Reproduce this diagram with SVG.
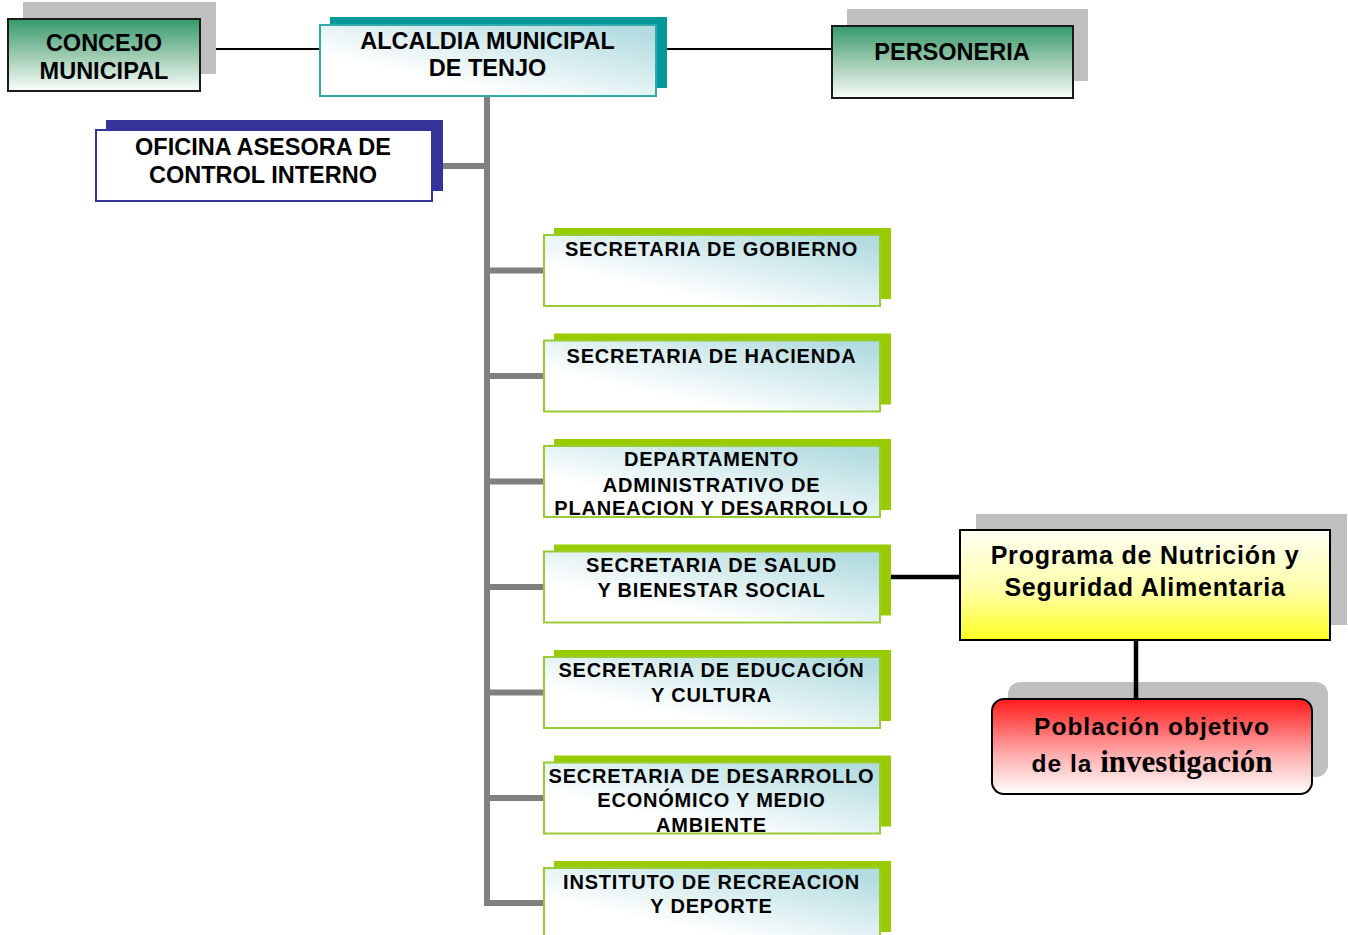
<svg xmlns="http://www.w3.org/2000/svg" width="1348" height="935" viewBox="0 0 1348 935">
<defs>
<linearGradient id="gGreen" x1="0" y1="0" x2="0" y2="1">
<stop offset="0" stop-color="#35996b"/>
<stop offset="0.5" stop-color="#9ccab0"/>
<stop offset="1" stop-color="#fbfdfb"/>
</linearGradient>
<linearGradient id="gTeal" x1="0.15" y1="0.9" x2="0.95" y2="0.1">
<stop offset="0.2" stop-color="#ffffff"/>
<stop offset="1" stop-color="#b3dce0"/>
</linearGradient>
<linearGradient id="gYellow" x1="0" y1="0" x2="0" y2="1">
<stop offset="0" stop-color="#fffff6"/>
<stop offset="0.55" stop-color="#ffffa8"/>
<stop offset="1" stop-color="#ffff22"/>
</linearGradient>
<linearGradient id="gRed" x1="0" y1="0" x2="0" y2="1">
<stop offset="0" stop-color="#ff1a1a"/>
<stop offset="0.6" stop-color="#ffb0b0"/>
<stop offset="1" stop-color="#ffffff"/>
</linearGradient>
</defs>
<style>
text{font-family:"Liberation Sans",Arial,sans-serif;font-weight:bold;fill:#000;text-anchor:middle}
.big{font-size:23.5px}
.sec{font-size:20px;letter-spacing:0.8px}
.gshadow{fill:#c0c0c0}
.greenbox{fill:url(#gGreen);stroke:#1a1a1a;stroke-width:2}
.secsh{fill:#99cc00}
.secfill{fill:url(#gTeal)}
.secborder{fill:none;stroke:#99cc33;stroke-width:2}
.tree{stroke:#808080;stroke-width:6;fill:none}
.thin{stroke:#000;stroke-width:2}
.thick{stroke:#000;stroke-width:4.5}
</style>

<g id="connectors">
<line class="thin" x1="200" y1="49" x2="320" y2="49"/>
<line class="thin" x1="656" y1="49" x2="832" y2="49"/>
<polyline class="tree" points="487,96 487,903 543,903"/>
<line class="tree" x1="432" y1="166" x2="487" y2="166"/>
<line class="tree" x1="487" y1="270.5" x2="543" y2="270.5"/>
<line class="tree" x1="487" y1="376" x2="543" y2="376"/>
<line class="tree" x1="487" y1="481.5" x2="543" y2="481.5"/>
<line class="tree" x1="487" y1="587" x2="543" y2="587"/>
<line class="tree" x1="487" y1="692.5" x2="543" y2="692.5"/>
<line class="tree" x1="487" y1="798" x2="543" y2="798"/>
<line class="thick" x1="880" y1="577" x2="960" y2="577"/>
</g>

<g id="concejo">
<rect class="gshadow" x="23" y="2" width="193" height="72"/>
<rect class="greenbox" x="8" y="19" width="192" height="72"/>
<text class="big" x="104" y="51">CONCEJO</text>
<text class="big" x="104" y="79">MUNICIPAL</text>
</g>

<g id="alcaldia">
<rect x="330" y="17" width="337" height="71" fill="#009999"/>
<rect x="320" y="25" width="336" height="71" fill="url(#gTeal)" stroke="#33aaaa" stroke-width="2"/>
<text class="big" x="487.5" y="49">ALCALDIA MUNICIPAL</text>
<text class="big" x="487.5" y="76">DE TENJO</text>
</g>

<g id="personeria">
<rect class="gshadow" x="847" y="9" width="241" height="72"/>
<rect class="greenbox" x="832" y="26" width="241" height="72"/>
<text class="big" x="952" y="60">PERSONERIA</text>
</g>

<g id="oficina">
<rect x="106" y="120" width="337" height="71" fill="#333399"/>
<rect x="96" y="130" width="336" height="71" fill="#ffffff" stroke="#333399" stroke-width="2"/>
<text class="big" x="263" y="155">OFICINA ASESORA DE</text>
<text class="big" x="263" y="183">CONTROL INTERNO</text>
</g>

<g id="gobierno">
<rect class="secsh" x="554" y="228" width="337" height="71"/>
<rect class="secfill" x="544" y="235" width="336" height="71"/>
<text class="sec" x="711.5" y="256">SECRETARIA DE GOBIERNO</text>
<rect class="secborder" x="544" y="235" width="336" height="71"/>
</g>

<g id="hacienda">
<rect class="secsh" x="554" y="333.5" width="337" height="71"/>
<rect class="secfill" x="544" y="340.5" width="336" height="71"/>
<text class="sec" x="711.5" y="362.5">SECRETARIA DE HACIENDA</text>
<rect class="secborder" x="544" y="340.5" width="336" height="71"/>
</g>

<g id="planeacion">
<rect class="secsh" x="554" y="439" width="337" height="71"/>
<rect class="secfill" x="544" y="446" width="336" height="71"/>
<text class="sec" x="711.5" y="466">DEPARTAMENTO</text>
<text class="sec" x="711.5" y="491.5">ADMINISTRATIVO DE</text>
<text class="sec" x="711.5" y="515">PLANEACION Y DESARROLLO</text>
<rect class="secborder" x="544" y="446" width="336" height="71"/>
</g>

<g id="salud">
<rect class="secsh" x="554" y="544.5" width="337" height="71"/>
<rect class="secfill" x="544" y="551.5" width="336" height="71"/>
<text class="sec" x="711.5" y="571.5">SECRETARIA DE SALUD</text>
<text class="sec" x="711.5" y="596.5">Y BIENESTAR SOCIAL</text>
<rect class="secborder" x="544" y="551.5" width="336" height="71"/>
</g>

<g id="educacion">
<rect class="secsh" x="554" y="650" width="337" height="71"/>
<rect class="secfill" x="544" y="657" width="336" height="71"/>
<text class="sec" x="711.5" y="677">SECRETARIA DE EDUCACIÓN</text>
<text class="sec" x="711.5" y="702">Y CULTURA</text>
<rect class="secborder" x="544" y="657" width="336" height="71"/>
</g>

<g id="desarrollo">
<rect class="secsh" x="554" y="755.5" width="337" height="71"/>
<rect class="secfill" x="544" y="762.5" width="336" height="71"/>
<text class="sec" x="711.5" y="782.5">SECRETARIA DE DESARROLLO</text>
<text class="sec" x="711.5" y="807">ECONÓMICO Y MEDIO</text>
<text class="sec" x="711.5" y="832">AMBIENTE</text>
<rect class="secborder" x="544" y="762.5" width="336" height="71"/>
</g>

<g id="instituto">
<rect class="secsh" x="554" y="861" width="337" height="71"/>
<rect class="secfill" x="544" y="868" width="336" height="71"/>
<text class="sec" x="711.5" y="888.5">INSTITUTO DE RECREACION</text>
<text class="sec" x="711.5" y="913">Y DEPORTE</text>
<rect class="secborder" x="544" y="868" width="336" height="71"/>
</g>

<g id="programa">
<rect class="gshadow" x="976" y="514" width="371" height="111"/>
<rect x="960" y="530" width="370" height="110" fill="url(#gYellow)" stroke="#000" stroke-width="2"/>
<text x="1145" y="564" style="font-size:25px;letter-spacing:0.8px">Programa de Nutrición y</text>
<text x="1145" y="596" style="font-size:25px;letter-spacing:0.8px">Seguridad Alimentaria</text>
</g>

<g id="poblacion">
<rect class="gshadow" x="1008" y="682" width="320" height="95" rx="12"/>
<line class="thick" x1="1136" y1="640" x2="1136" y2="699"/>
<rect x="992" y="699" width="320" height="95" rx="12" fill="url(#gRed)" stroke="#000" stroke-width="2"/>
<text x="1152" y="735" style="font-size:24.5px;letter-spacing:1px">Población objetivo</text>
<text x="1152" y="772"><tspan style="font-size:24.5px;letter-spacing:1px">de la </tspan><tspan style="font-family:'Liberation Serif','Times New Roman',serif;font-size:31px">investigación</tspan></text>
</g>
</svg>
